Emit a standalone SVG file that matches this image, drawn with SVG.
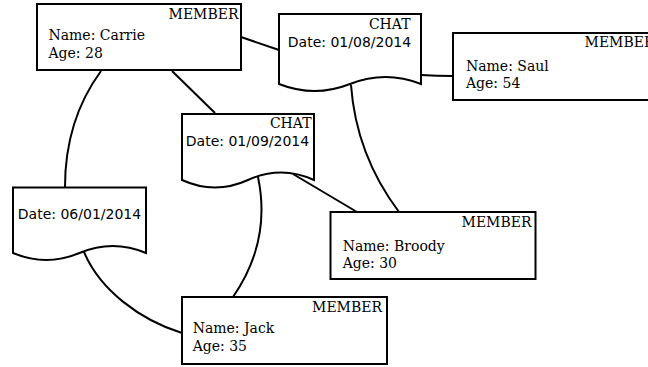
<svg xmlns="http://www.w3.org/2000/svg" width="648" height="367" viewBox="0 0 648 367">
<style>
.box{fill:#fff;stroke:#000;stroke-width:2}
.edge{fill:none;stroke:#000;stroke-width:2}
.serif{font-family:"DejaVu Serif","Liberation Serif",serif;font-size:14px;fill:#000}
.sans{font-family:"DejaVu Sans","Liberation Sans",sans-serif;font-size:14px;fill:#000}
.end{text-anchor:end}
.mid{text-anchor:middle}
</style>
<rect width="648" height="367" fill="#fff"/>
<g id="connectors">
<path class="edge" d="M241,37 L279,50"/>
<path class="edge" d="M172,71 L215,113"/>
<path class="edge" d="M101,71 C79,101 65,140 65,187"/>
<path class="edge" d="M421,75 Q437,76 453,76"/>
<path class="edge" d="M351,85 C355,140 375,180 399,212"/>
<path class="edge" d="M293,174 L357,212"/>
<path class="edge" d="M258,177 C266,215 262,255 233,297"/>
<path class="edge" d="M84,252 C100,290 140,320 182,333"/>
</g>
<g id="member-carrie">
<rect class="box" x="37" y="4" width="204" height="66"/>
<text class="serif end" x="238.5" y="18.5">MEMBER</text>
<text class="serif" x="48.5" y="40">Name: Carrie</text>
<text class="serif" x="48.5" y="58">Age: 28</text>
</g>
<g id="chat-0108">
<path class="box" d="M279,14 H421 V84 Q385.5,70 350,84 Q314.5,98 279,84 Z"/>
<text class="serif end" x="410.5" y="28.7">CHAT</text>
<text class="sans mid" x="349.5" y="46.7">Date: 01/08/2014</text>
</g>
<g id="member-saul">
<rect class="box" x="453" y="33" width="204" height="67"/>
<text class="serif end" x="654.5" y="47">MEMBER</text>
<text class="serif" x="466" y="71">Name: Saul</text>
<text class="serif" x="466" y="88.3">Age: 54</text>
</g>
<g id="chat-0109">
<path class="box" d="M182,114 H314 V180 Q281,165 248,180 Q215,195 182,180 Z"/>
<text class="serif end" x="311.5" y="128.3">CHAT</text>
<text class="sans mid" x="247.5" y="146">Date: 01/09/2014</text>
</g>
<g id="chat-0601">
<path class="box" d="M13,187.5 H146 V253 Q112.75,239 79.5,253 Q46.25,267 13,253 Z"/>
<text class="sans mid" x="79.5" y="218.5">Date: 06/01/2014</text>
</g>
<g id="member-broody">
<rect class="box" x="330.5" y="212" width="205" height="67"/>
<text class="serif end" x="531.5" y="227">MEMBER</text>
<text class="serif" x="342.7" y="250.7">Name: Broody</text>
<text class="serif" x="342.7" y="268">Age: 30</text>
</g>
<g id="member-jack">
<rect class="box" x="182" y="297" width="205" height="67"/>
<text class="serif end" x="382" y="311.7">MEMBER</text>
<text class="serif" x="192.7" y="333">Name: Jack</text>
<text class="serif" x="192.7" y="350.7">Age: 35</text>
</g>
</svg>
